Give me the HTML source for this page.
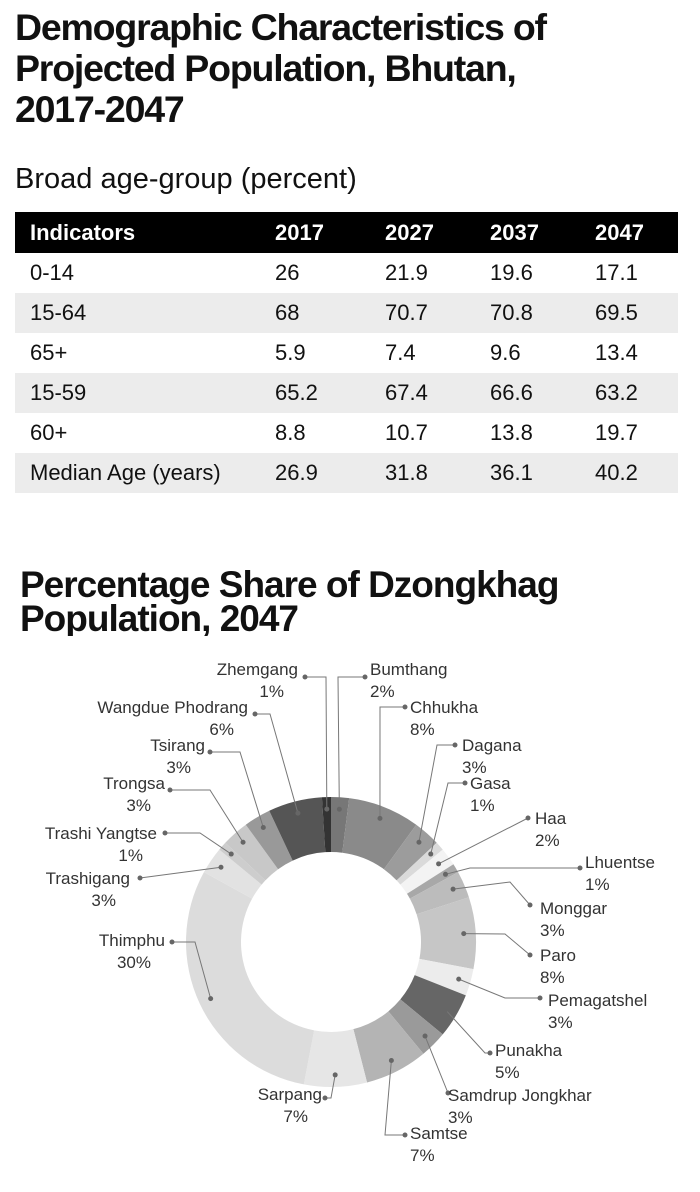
<!DOCTYPE html>
<html><head><meta charset="utf-8">
<style>
body{margin:0;width:700px;height:1192px;background:#fff;font-family:"Liberation Sans Narrow","Liberation Sans",sans-serif;color:#111;position:relative;overflow:hidden}
.t{position:absolute;left:15px;top:7px;font:bold 37.5px/41px "Liberation Sans",sans-serif;letter-spacing:-1.2px;color:#111}
.sub{position:absolute;left:15px;top:163px;font-size:29px;color:#111}
table{position:absolute;left:15px;top:212px;width:663px;border-collapse:collapse;font-size:22px}
th{background:#000;color:#fff;text-align:left;height:41px;font-weight:bold;padding:0}
td{height:40px;padding:0}
tr.g td{background:#ececec}
th:first-child,td:first-child{padding-left:15px;width:245px}
.t2{position:absolute;left:20px;top:568px;font:bold 37px/34px "Liberation Sans",sans-serif;letter-spacing:-1px;color:#111;height:68px;overflow:hidden}
svg{position:absolute;left:0;top:0}
svg text{font-family:"Liberation Sans Narrow","Liberation Sans",sans-serif;font-size:17px;fill:#333}
</style></head><body>
<div class="t">Demographic Characteristics of<br>Projected Population, Bhutan,<br>2017-2047</div>
<div class="sub">Broad age-group (percent)</div>
<table>
<tr><th>Indicators</th><th style="width:110px">2017</th><th style="width:105px">2027</th><th style="width:105px">2037</th><th>2047</th></tr>
<tr><td>0-14</td><td>26</td><td>21.9</td><td>19.6</td><td>17.1</td></tr>
<tr class="g"><td>15-64</td><td>68</td><td>70.7</td><td>70.8</td><td>69.5</td></tr>
<tr><td>65+</td><td>5.9</td><td>7.4</td><td>9.6</td><td>13.4</td></tr>
<tr class="g"><td>15-59</td><td>65.2</td><td>67.4</td><td>66.6</td><td>63.2</td></tr>
<tr><td>60+</td><td>8.8</td><td>10.7</td><td>13.8</td><td>19.7</td></tr>
<tr class="g"><td>Median Age (years)</td><td>26.9</td><td>31.8</td><td>36.1</td><td>40.2</td></tr>
</table>
<div class="t2">Percentage Share of Dzongkhag<br>Population, 2047</div>
<svg id="ch" width="700" height="1192"></svg>
<script>
const names=["Bumthang","Chhukha","Dagana","Gasa","Haa","Lhuentse","Monggar","Paro","Pemagatshel","Punakha","Samdrup Jongkhar","Samtse","Sarpang","Thimphu","Trashigang","Trashi Yangtse","Trongsa","Tsirang","Wangdue Phodrang","Zhemgang"];
const values=[2,8,3,1,2,1,3,8,3,5,3,7,7,30,3,1,3,3,6,1];
const colors=["#777","#8a8a8a","#9c9c9c","#dadada","#f3f3f3","#a8a8a8","#bcbcbc","#c6c6c6","#ececec","#666","#9a9a9a","#b4b4b4","#e6e6e6","#dcdcdc","#e2e2e2","#cdcdcd","#c8c8c8","#999","#555","#333"];
// label layout: [textX, textY, anchor, lineX, lineY, elbowX, elbowY]
const layout=[[370,675,"start",365,677,338,677],[410,713,"start",405,707,380,707],[462,751,"start",455,745,437,745],[470,789,"start",465,783,448,783],[535,824,"start",528,818,528,818],[585,868,"start",580,868,470,868],[540,914,"start",530,905,510,882],[540,961,"start",530,955,505,934],[548,1006,"start",540,998,505,998],[495,1056,"start",490,1053,485,1053],[448,1101,"start",448,1093,448,1093],[410,1139,"start",405,1135,385,1135],[322,1100,"end",325,1098,331,1098],[165,946,"end",172,942,195,942],[130,884,"end",140,878,140,878],[157,839,"end",165,833,200,833],[165,789,"end",170,790,210,790],[205,751,"end",210,752,240,752],[248,713,"end",255,714,270,714],[298,675,"end",305,677,326,677]];
const svg=document.getElementById('ch'),NS="http://www.w3.org/2000/svg";
const cx=331,cy=942,R=145,r=90;
const total=values.reduce((a,b)=>a+b,0);
function pt(rad,a){return [cx+rad*Math.sin(a),cy-rad*Math.cos(a)];}
let acc=0;
values.forEach((v,i)=>{
 const a0=acc/total*2*Math.PI,a1=(acc+v)/total*2*Math.PI;acc+=v;
 const [x0,y0]=pt(R,a0),[x1,y1]=pt(R,a1),[x2,y2]=pt(r,a1),[x3,y3]=pt(r,a0);
 const lg=(a1-a0)>Math.PI?1:0;
 const p=document.createElementNS(NS,'path');
 p.setAttribute('d',`M${x0},${y0}A${R},${R} 0 ${lg} 1 ${x1},${y1}L${x2},${y2}A${r},${r} 0 ${lg} 0 ${x3},${y3}Z`);
 p.setAttribute('fill',colors[i]);
 
 
 svg.appendChild(p);
});
acc=0;
values.forEach((v,i)=>{
 const am=(acc+v/2)/total*2*Math.PI;acc+=v;
 const [dx,dy]=pt(R-12,am);const L=layout[i];
 const pl=document.createElementNS(NS,'polyline');
 pl.setAttribute('points',`${dx},${dy} ${L[5]},${L[6]} ${L[3]},${L[4]}`);
 pl.setAttribute('fill','none');pl.setAttribute('stroke','#777');pl.setAttribute('stroke-width','1');
 
 
 svg.appendChild(pl);
 [[dx,dy],[L[3],L[4]]].forEach(([x,y])=>{const c=document.createElementNS(NS,'circle');c.setAttribute('cx',x);c.setAttribute('cy',y);c.setAttribute('r',2.5);c.setAttribute('fill','#666');
 
 
 svg.appendChild(c);});
 const t=document.createElementNS(NS,'text');
 t.setAttribute('x',L[0]);t.setAttribute('y',L[1]);t.setAttribute('text-anchor',L[2]);
 
 
 const s1=document.createElementNS(NS,'tspan');s1.textContent=names[i];s1.setAttribute('x',L[0]);
 const s2=document.createElementNS(NS,'tspan');s2.textContent=values[i]+'%';s2.setAttribute('x',L[2]=="end"?L[0]-14:L[0]);s2.setAttribute('dy','22');
 t.appendChild(s1);t.appendChild(s2);svg.appendChild(t);
});
</script>
</body></html>
